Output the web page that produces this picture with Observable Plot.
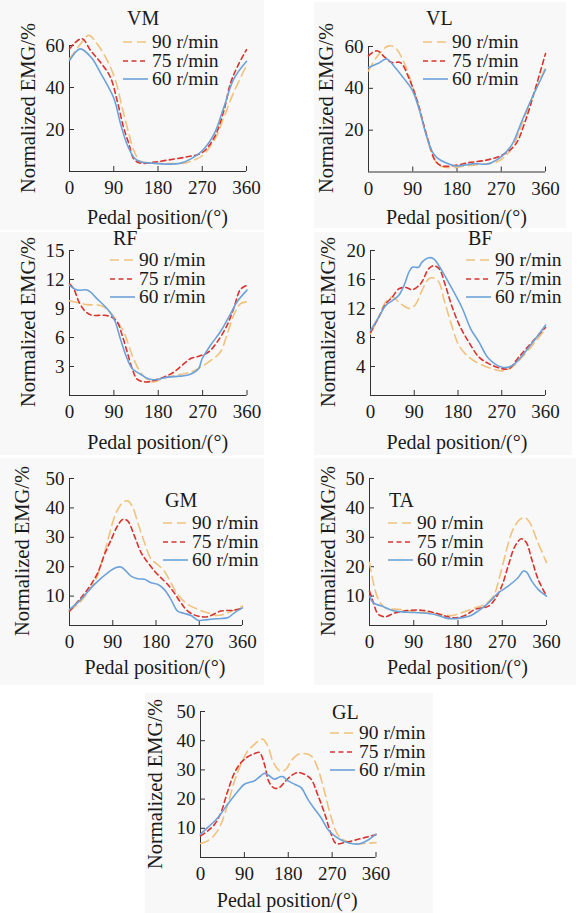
<!DOCTYPE html>
<html><head><meta charset="utf-8">
<script src="https://cdn.jsdelivr.net/npm/d3@7"></script>
<script src="https://cdn.jsdelivr.net/npm/@observablehq/plot@0.6"></script>
<style>
body{margin:0;background:#fff;}
#root{position:relative;width:578px;height:913px;overflow:hidden;font-family:"Liberation Serif",serif;color:#1a1a1a;}
#root *{font-family:"Liberation Serif",serif !important;}
.abs{position:absolute;white-space:nowrap;line-height:1;}
.bg{position:absolute;background:#f8f8f8;}
.leg span{display:inline-block;line-height:16px;height:16px;overflow:visible;}
svg{overflow:visible;}
</style></head><body><div id="root"></div>
<script>
// ---------- data ----------
const speeds = ["90 r/min", "75 r/min", "60 r/min"];
const xTicks = [0, 90, 180, 270, 360];
const xLabel = "Pedal position/(°)";
const yLabel = "Normalized EMG/%";

const VM_90 = [[0,53.6],[20,60],[39,64.8],[56,60.8],[77,52.8],[94,43],[107,30.6],[121,17.8],[131,9.9],[144,5],[172,4],[199,3.8],[233,4],[253,5.4],[270,7.5],[294,14.6],[314,25.8],[334,37.7],[360,50.5]];
const VM_75 = [[0,58.4],[12,61.5],[26,63.2],[43,57.6],[63,52],[83,45],[97,33.7],[110,21],[121,13],[131,5.9],[144,4],[168,4.3],[199,5.4],[239,7],[270,9],[294,16],[314,29],[327,41.7],[341,49.7],[360,58]];
const VM_60 = [[0,52.8],[22,58.4],[45,54],[63,47],[90,35],[104,22.6],[117,13],[131,6.7],[144,4.6],[168,4],[199,3.5],[226,4],[246,5.9],[270,9.9],[294,17.8],[314,30.6],[334,44],[360,52.5]];

const VL_90 = [[0,48.3],[20,56],[41,60.3],[54,59.5],[71,53],[88,42],[105,29.2],[119,16.4],[132,6.9],[146,2.9],[170,2],[197,2.9],[231,3.7],[258,4.5],[275,6.9],[292,11.6],[312,22.8],[333,35.6],[360,50]];
const VL_75 = [[0,55.5],[17,58],[34,54.7],[48,52.3],[65,52.3],[82,45],[99,34],[112,22.8],[126,11.6],[136,5.3],[149,2.9],[177,3.2],[204,4.5],[238,5.6],[272,8.1],[299,13.2],[319,24.4],[340,40.4],[360,56.6]];
const VL_60 = [[0,50],[20,52],[37,54],[54,50],[71,45],[88,39.6],[102,30.8],[115,19.6],[129,10],[139,6.9],[156,4.5],[177,2.9],[197,3.4],[217,4],[238,3.7],[251,4.5],[272,7.7],[292,13.2],[312,24.4],[333,35.6],[360,49]];

const RF_90 = [[0,9.8],[36,9.4],[63,9.3],[83,8.6],[97,7.6],[110,6.6],[120,5.2],[130,3.8],[144,2.4],[157,1.7],[171,1.4],[191,1.8],[218,2.1],[245,2.4],[265,2.9],[286,3.6],[306,4.5],[319,6.2],[333,8.3],[347,9.5],[360,9.7]];
const RF_75 = [[0,11.55],[9,11],[19,9.7],[32,8.7],[46,8.3],[70,8.3],[86,8.1],[97,7.6],[107,6.2],[117,4.5],[127,2.8],[137,1.7],[154,1.4],[171,1.55],[191,1.9],[211,2.4],[228,3.1],[245,3.8],[265,4.1],[282,4.5],[299,5.5],[319,7.2],[333,9],[347,11],[360,11.4]];
const RF_60 = [[0,11.4],[16,10.9],[37,10.9],[56,10],[76,9],[86,8.3],[93,7.6],[103,5.9],[117,3.8],[127,2.8],[144,2.2],[161,1.7],[178,1.65],[198,1.9],[225,2],[245,2.2],[262,2.8],[269,3.8],[286,5.2],[306,6.6],[326,8.4],[340,9.7],[360,10.9]];

const BF_90 = [[0,8.5],[17,10.8],[31,12.9],[45,13.6],[58,12.9],[72,12.2],[82,12],[93,12.6],[106,14.5],[120,16.1],[130,16.2],[141,15.6],[151,13.3],[165,10.1],[182,6.9],[202,5.3],[223,4.4],[250,3.7],[271,3.4],[291,3.9],[312,5.3],[339,7.4],[360,9.2]];
const BF_75 = [[0,8.7],[17,10.8],[31,12.6],[45,13.6],[58,14.7],[72,14.9],[86,14.6],[103,15.4],[120,17.5],[130,17.9],[141,17.5],[154,15.2],[168,12.2],[185,9.4],[202,7.4],[223,5.3],[243,4.4],[271,3.7],[285,3.7],[305,5.3],[333,7.4],[360,9.4]];
const BF_60 = [[0,8.97],[17,10.8],[31,12.4],[45,13.1],[58,13.8],[69,15.2],[79,17],[86,17.7],[99,17.7],[106,18.4],[120,19],[130,18.85],[147,17.2],[168,14.7],[189,12],[206,9.2],[223,7.4],[243,5.1],[271,3.9],[291,4.1],[312,5.5],[339,7.8],[360,9.7]];

const GM_90 = [[0,4.9],[24,8.3],[42,12.3],[55,15.7],[69,22.5],[83,31],[97,38.4],[111,41.8],[121,42.4],[132,40.1],[142,35],[156,28.2],[170,22.5],[183,20.8],[197,18.5],[211,14.5],[225,10.6],[246,7.2],[267,5.5],[287,4.3],[308,3.4],[329,4.3],[360,6.6]];
const GM_75 = [[0,4.9],[24,9.4],[45,14],[59,18],[73,24.2],[87,29.3],[100,33.9],[111,36.1],[121,35.6],[135,30.5],[149,24.8],[163,21.4],[177,18.5],[190,16.3],[204,14],[218,11.1],[232,7.7],[246,4.9],[267,3.2],[287,3],[315,4.9],[343,5.2],[360,6]];
const GM_60 = [[0,5.45],[24,8.9],[52,14],[80,18],[97,19.7],[107,19.9],[114,19.1],[128,16.8],[142,15.9],[156,15.7],[170,14.5],[183,14],[197,12.3],[211,8.9],[225,4.9],[239,4.1],[253,3.4],[267,1.8],[287,2],[315,2.4],[329,2.6],[343,4.3],[360,6]];

const TA_90 = [[0,21.4],[8,14.5],[18,8.9],[32,6],[59,5.5],[86,4.9],[120,4.3],[147,3.75],[167,3.4],[187,4.3],[215,6],[235,7.2],[252,10],[265,16.8],[279,25.9],[292,32.7],[306,36.1],[316,36.7],[326,35],[340,29.3],[360,21.4]];
const TA_75 = [[0,11.7],[8,7.7],[18,3.75],[32,3],[52,4.3],[79,5.1],[106,5.2],[133,4.3],[154,3.2],[174,2.6],[194,3.4],[215,5.5],[242,6.6],[255,8.9],[269,13.4],[282,20.2],[296,27],[309,29.5],[319,28.2],[330,22.5],[343,15.7],[360,10]];
const TA_60 = [[0,10],[8,7.7],[25,6.6],[52,4.9],[79,4.5],[106,4.3],[133,3.75],[154,2.6],[167,2.3],[187,2.6],[204,3.2],[221,4.9],[242,7.7],[262,11.1],[282,13.4],[302,16.25],[313,18.5],[319,18.2],[330,15.1],[343,12.3],[360,10]];

const GL_90 = [[0,4.8],[15,5.7],[29,7.8],[42,11.4],[56,18.3],[70,26.3],[83,32],[97,36.5],[111,38.8],[121,40.2],[128,40.5],[138,38.2],[148,33.1],[158,30.3],[165,29.5],[176,30.3],[186,33.1],[199,35.2],[213,35.6],[227,34.8],[240,30.8],[254,22.8],[268,13.7],[281,8],[295,5.9],[316,4.8],[336,4.8],[360,5.1]];
const GL_75 = [[0,7.4],[15,9.1],[29,11.4],[42,15.4],[56,22.8],[70,29.1],[83,32.5],[97,34.5],[111,35.6],[121,36],[131,32],[141,25.7],[152,23.7],[162,24],[172,25.7],[186,28],[199,29.1],[213,28.5],[227,26.8],[240,21.7],[254,15.4],[268,8],[278,4.8],[295,5.1],[316,5.9],[336,6.8],[360,7.8]];
const GL_60 = [[0,8],[15,10.3],[36,13.7],[56,18.3],[77,22.8],[90,25.1],[111,26.3],[124,28],[131,28.8],[141,28],[152,26.8],[162,27.6],[169,27.7],[179,26.3],[193,25.1],[206,24],[220,20],[234,16.6],[247,13.7],[261,9.7],[275,7.4],[295,5.5],[316,4.6],[329,4.8],[343,5.9],[360,8]];

const muscles = ["VM", "VL", "RF", "BF", "GM", "TA", "GL"];
const yMax = [60, 60, 15, 20, 50, 50, 50];
const yTicks = [[20,40,60],[20,40,60],[3,6,9,12,15],[4,8,12,16,20],[10,20,30,40,50],[10,20,30,40,50],[10,20,30,40,50]];
const seriesData = [[VM_90,VM_75,VM_60],[VL_90,VL_75,VL_60],[RF_90,RF_75,RF_60],[BF_90,BF_75,BF_60],[GM_90,GM_75,GM_60],[TA_90,TA_75,TA_60],[GL_90,GL_75,GL_60]];

// ---------- styles / layout ----------
const colors = ["#f0c27e", "#d8332c", "#6ca2da"];
const dashes = ["9,5", "5,3.5", null];
const FONT = '"Liberation Serif",serif';

// axL, axR: pixel x of 0 and 360; yTop: pixel of ymax; y0: pixel of 0
const layout = [
  {bg:[0,0,264,230], axL:69, axR:246, yTop:45, y0:171, title:[127,18], leg:[123,42], ylab:[28,108], xlabY:217},
  {bg:[314,2,252,226], axL:368, axR:545, yTop:45.5, y0:171, title:[426,18], leg:[423,42], ylab:[326,108], xlabY:217},
  {bg:[0,232,264,223], axL:69, axR:246.5, yTop:250, y0:395, title:[113,238], leg:[110,260], ylab:[28,322], xlabY:442},
  {bg:[314,232,258,223], axL:369.5, axR:544.5, yTop:250, y0:395, title:[468,238], leg:[466,260], ylab:[328,322], xlabY:442},
  {bg:[0,458,264,227], axL:68.5, axR:241.5, yTop:477.5, y0:624.5, title:[165,500], leg:[163,523], ylab:[22,551], xlabY:667},
  {bg:[314,458,262,227], axL:369, axR:546, yTop:477.5, y0:624.5, title:[389,500], leg:[388,523], ylab:[328,551], xlabY:667},
  {bg:[145,693,288,220], axL:199.5, axR:375, yTop:710.5, y0:856.5, title:[332,712], leg:[330,733], ylab:[155,784], xlabY:900}
];

const root = document.getElementById("root");
function addDiv(html, left, top, styles, cls="abs") {
  const d = document.createElement("div");
  d.className = cls;
  d.innerHTML = html;
  d.style.left = left + "px";
  d.style.top = top + "px";
  Object.assign(d.style, styles || {});
  root.appendChild(d);
  return d;
}

layout.forEach((L) => {
  const [bx, by, bw, bh] = L.bg;
  addDiv("", bx, by, {width: bw + "px", height: bh + "px"}, "bg");
});

layout.forEach((L, i) => {
  const mL = 60, mR = 24, mT = 24, mB = 40;
  const width = (L.axR - L.axL) + mL + mR;
  const height = (L.y0 - L.yTop) + mT + mB;
  const marks = [
    Plot.ruleX([0], {stroke: "#333", strokeWidth: 1}),
    Plot.ruleY([0], {stroke: "#333", strokeWidth: 1}),
    Plot.axisX({ticks: xTicks, tickSize: -5, tickPadding: 14, label: null, fontSize: 19, fontFamily: FONT, stroke: "#333", fill: "#1a1a1a", tickFormat: d => String(d)}),
    Plot.axisY({ticks: yTicks[i], tickSize: -5, tickPadding: 10, label: null, fontSize: 19, fontFamily: FONT, stroke: "#333", fill: "#1a1a1a", tickFormat: d => String(d)})
  ];
  seriesData[i].forEach((s, k) => {
    marks.push(Plot.line(s, {x: d => d[0], y: d => d[1], stroke: colors[k], strokeWidth: 1.6, strokeDasharray: dashes[k], curve: "catmull-rom"}));
  });
  const svg = Plot.plot({
    width, height,
    marginLeft: mL, marginRight: mR, marginTop: mT, marginBottom: mB,
    x: {domain: [0, 360]},
    y: {domain: [0, yMax[i]]},
    style: {fontFamily: FONT, fontSize: "19px", background: "transparent", overflow: "visible"},
    marks
  });
  const holder = addDiv("", L.axL - mL, L.yTop - mT, {});
  holder.appendChild(svg);

  addDiv(muscles[i], L.title[0], L.title[1], {fontSize: "20px", transform: "translateY(-50%)"});
  speeds.forEach((sp, k) => {
    const line = `<svg width="25" height="6" style="margin-right:4px;overflow:visible"><line x1="0" y1="3" x2="25" y2="3" stroke="${colors[k]}" stroke-width="1.6" ${dashes[k] ? `stroke-dasharray="${dashes[k]}"` : ""}/></svg>`;
    addDiv(line + `<span>${sp}</span>`, L.leg[0], L.leg[1] + k * 18.5, {fontSize: "19.5px", display: "flex", alignItems: "center", height: "16px", transform: "translateY(-50%)"}, "abs leg");
  });
  addDiv(yLabel, L.ylab[0], L.ylab[1], {fontSize: "20.5px", transform: "translate(-50%,-50%) rotate(-90deg)"});
  addDiv(xLabel, (L.axL + L.axR) / 2, L.xlabY, {fontSize: "20px", transform: "translate(-50%,-50%)"});
});
</script>
</body></html>
